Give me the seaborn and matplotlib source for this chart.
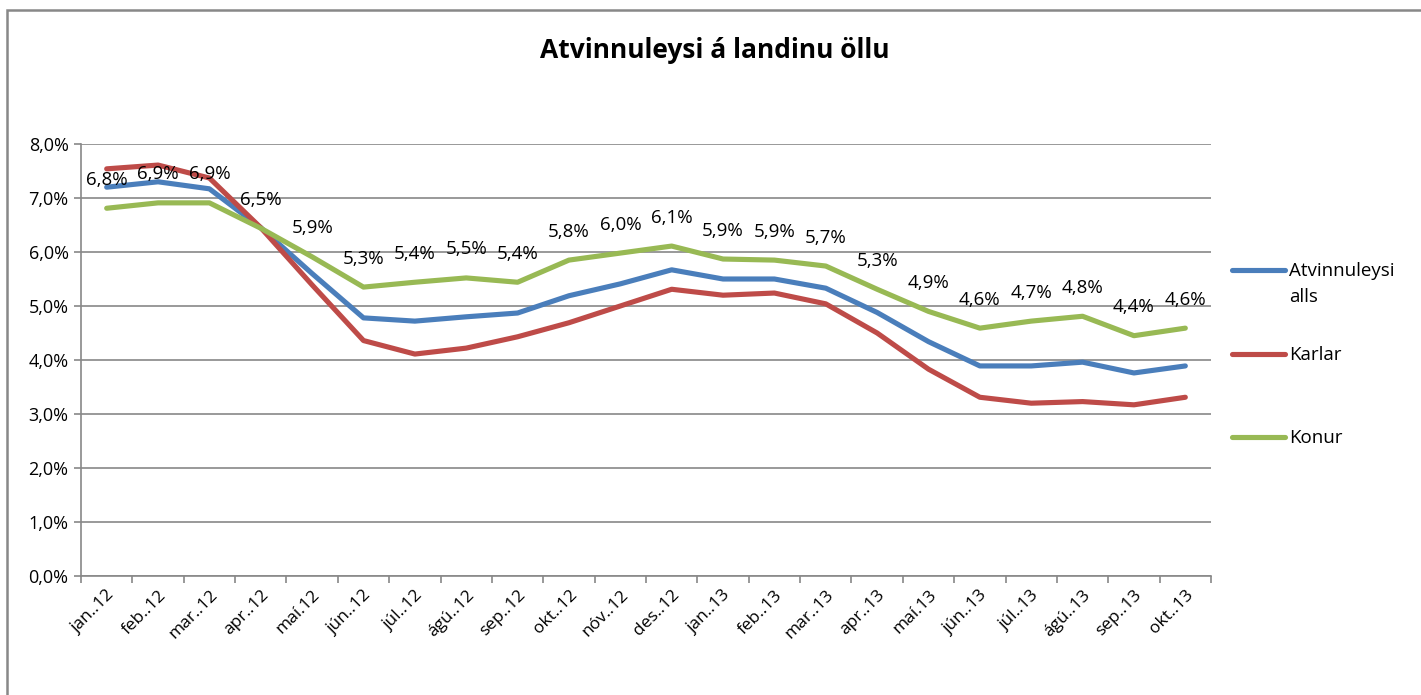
import numpy as np
import pandas as pd
import matplotlib
matplotlib.use("Agg")
import matplotlib.pyplot as plt
from matplotlib.patches import Rectangle
from matplotlib.lines import Line2D
import seaborn as sns

months = ["jan..12", "feb..12", "mar..12", "apr..12", "maí.12", "jún..12", "júl..12",
          "ágú..12", "sep..12", "okt..12", "nóv..12", "des..12", "jan..13", "feb..13",
          "mar..13", "apr..13", "maí.13", "jún..13", "júl..13", "ágú..13", "sep..13", "okt..13"]
alls = [7.20, 7.30, 7.17, 6.45, 5.60, 4.78, 4.72, 4.80, 4.87, 5.19, 5.41, 5.67,
        5.50, 5.50, 5.33, 4.88, 4.34, 3.89, 3.89, 3.96, 3.76, 3.89]
karlar = [7.54, 7.61, 7.37, 6.45, 5.39, 4.36, 4.11, 4.22, 4.43, 4.69, 5.00, 5.31,
          5.20, 5.24, 5.04, 4.50, 3.83, 3.31, 3.20, 3.23, 3.17, 3.31]
konur = [6.81, 6.91, 6.91, 6.44, 5.91, 5.35, 5.44, 5.52, 5.44, 5.85, 5.98, 6.11,
         5.87, 5.85, 5.74, 5.31, 4.90, 4.59, 4.72, 4.81, 4.45, 4.59]
konur_labels = ["6,8%", "6,9%", "6,9%", "6,5%", "5,9%", "5,3%", "5,4%", "5,5%", "5,4%",
                "5,8%", "6,0%", "6,1%", "5,9%", "5,9%", "5,7%", "5,3%", "4,9%", "4,6%",
                "4,7%", "4,8%", "4,4%", "4,6%"]
series_names = ["Atvinnuleysi alls", "Karlar", "Konur"]
legend_labels = ["Atvinnuleysi\nalls", "Karlar", "Konur"]
yticks = [0, 1, 2, 3, 4, 5, 6, 7, 8]
ytick_labels = ["0,0%", "1,0%", "2,0%", "3,0%", "4,0%", "5,0%", "6,0%", "7,0%", "8,0%"]
title = "Atvinnuleysi á landinu öllu"

colors = ["#4A7EBB", "#BE4B48", "#98B954"]

sns.set_theme(style="white")
plt.rcParams["font.family"] = ["Open Sans", "DejaVu Sans"]
plt.rcParams["text.color"] = "black"
plt.rcParams["xtick.color"] = "black"
plt.rcParams["ytick.color"] = "black"

x = np.arange(len(months))
df = pd.concat([
    pd.DataFrame({"x": x, "val": vals, "series": name})
    for name, vals in zip(series_names, [alls, karlar, konur])
])

W, H = 1421, 695
fig = plt.figure(figsize=(W / 100, H / 100), dpi=100)
ax = fig.add_axes([81 / W, 1 - 576 / H, (1211 - 81) / W, (576 - 144) / H])

sns.lineplot(data=df, x="x", y="val", hue="series", palette=colors,
             hue_order=series_names, linewidth=3.7, ax=ax, legend=False, sort=False)

ax.set_xlim(-0.5, len(months) - 0.5)
ax.set_ylim(0, 8)
ax.set_yticks(yticks)
ax.set_yticklabels(ytick_labels, fontsize=13)
ax.set_xticks(x)
ax.set_xticklabels(months, rotation=45, ha="right", rotation_mode="anchor", fontsize=12.5)
ax.set_xticks(np.arange(-0.5, len(months)), minor=True)
ax.tick_params(axis="x", which="major", length=0, pad=8)
ax.tick_params(axis="x", which="minor", length=5, color="#888888", width=1.2, bottom=True)
ax.tick_params(axis="y", which="major", length=5, color="#888888", width=1.2, left=True, pad=4)
ax.set_xlabel("")
ax.set_ylabel("")
ax.grid(axis="y", color="#888888", linewidth=1.2)
ax.set_axisbelow(True)
for side in ["top", "right"]:
    ax.spines[side].set_visible(False)
for side in ["left", "bottom"]:
    ax.spines[side].set_color("#888888")
    ax.spines[side].set_linewidth(1.2)

for xi, v, lab in zip(x, konur, konur_labels):
    ax.annotate(lab, (xi, v), xytext=(0, 14), textcoords="offset points",
                ha="center", va="bottom", fontsize=13.5, color="black")

# legend (drawn to match the reference layout: handle aligned with first text line)
leg_y = [270, 354, 437]
for c, lab, yy in zip(colors, legend_labels, leg_y):
    fig.add_artist(Line2D([1232 / W, 1285 / W], [1 - yy / H, 1 - yy / H],
                          transform=fig.transFigure, color=c, linewidth=3.7,
                          solid_capstyle="round"))
    fig.text(1289 / W, 1 - (yy - 8) / H, lab, ha="left", va="top",
             fontsize=13.5, linespacing=1.6)

fig.text(715 / W, 1 - 50 / H, title, ha="center", va="center",
         fontsize=19, fontweight="bold")

fig.add_artist(Rectangle((7 / W, -0.01), 1.02, 1 - 10 / H + 0.01,
                         transform=fig.transFigure, fill=False,
                         edgecolor="#888888", linewidth=1.8))

fig.savefig("out.png", dpi=100)
